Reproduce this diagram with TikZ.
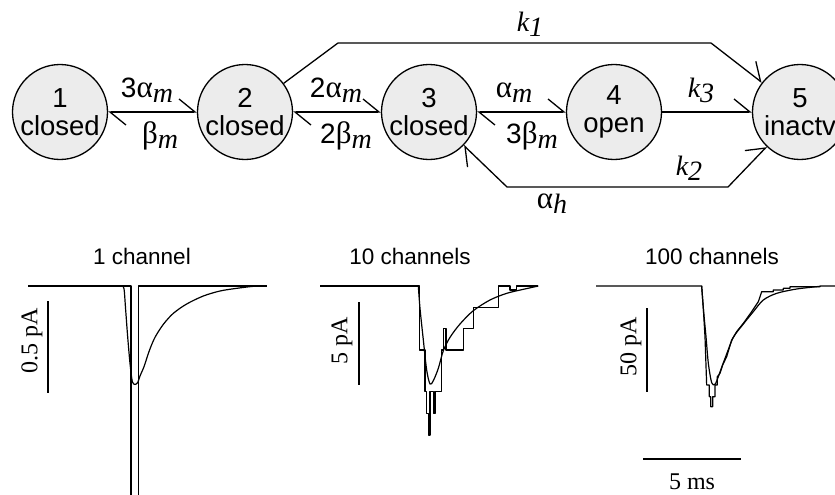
\documentclass[tikz,border=0pt]{standalone}
\usepackage{fontspec}
\setmainfont{Liberation Sans}
\newfontfamily\serf{Liberation Serif}
\usetikzlibrary{arrows.meta}
\newcommand\lowm[1]{\raisebox{-5pt}{\serf\itshape #1}}
\newcommand\gk[1]{{\serf\fontsize{31}{32}\selectfont #1}}
\begin{document}
\begin{tikzpicture}[x=1pt,y=-1pt,line width=1.3pt,
  state/.style={circle,draw,fill=gray!15,minimum size=95pt,inner sep=0pt,align=center,font=\fontsize{27.5}{28}\selectfont},
  lab/.style={font=\fontsize{28}{30}\selectfont,inner sep=0pt,anchor=base},
  title/.style={font=\fontsize{22.5}{24}\selectfont,inner sep=0pt},
  sclab/.style={font=\fontsize{24}{26}\selectfont\serf,inner sep=0pt},
  harp/.style={-{Straight Barb[left,length=16pt,width=26pt]}},
  biharp/.style={{Straight Barb[left,length=16pt,width=26pt]}-{Straight Barb[left,length=16pt,width=26pt]}},
  trace/.style={line width=1.2pt,line join=round}]
\useasboundingbox (0,0) rectangle (835,495);
% states
\node[state] (c1) at (60,112) {1\\closed};
\node[state] (c2) at (245,112) {2\\closed};
\node[state] (c3) at (429,112) {3\\closed};
\node[state] (c4) at (614,112) {4\\open};
\node[state] (c5) at (800,112) {5\\inactv};
% transitions
\draw[biharp] (c1) -- (c2);
\draw[biharp] (c2) -- (c3);
\draw[biharp] (c3) -- (c4);
\draw[harp] (c4) -- (c5);
\coordinate (ka) at (338,43);
\coordinate (kb) at (711,43);
\draw[harp] (c2) -- (ka) -- (kb) -- (c5);
\coordinate (ba) at (507,187);
\coordinate (bb) at (728,187);
\draw[biharp] (c3) -- (ba) -- (bb) -- (c5);
% rate labels
\node[lab] (r12) at (147,97) {3\gk{α}\lowm{m}};
\node[lab] (r21) at (160,143) {\gk{β}\lowm{m}};
\node[lab] (r23) at (336,97) {2\gk{α}\lowm{m}};
\node[lab] (r32) at (346,143) {2\gk{β}\lowm{m}};
\node[lab] (r34) at (514,97) {\gk{α}\lowm{m}};
\node[lab] (r43) at (532,143) {3\gk{β}\lowm{m}};
\node[lab] (rk1) at (530,32) {\serf\itshape k\lowm{1}};
\node[lab] (rk3) at (701,97) {\serf\itshape k\lowm{3}};
\node[lab] (rk2) at (689,175) {\serf\itshape k\lowm{2}};
\node[lab] (rah) at (552,208) {\gk{α}\lowm{h}};
% titles
\node[title] (t1) at (142,256) {1 channel};
\node[title] (t2) at (410,256) {10 channels};
\node[title] (t3) at (712,256) {100 channels};
% scale bars
\draw (48,301) -- (48,393);
\node[sclab,rotate=90] (s1) at (32,341) {0.5 pA};
\draw (359,302) -- (359,385);
\node[sclab,rotate=90] (s2) at (342,341) {5 pA};
\draw (647,308) -- (647,392);
\node[sclab,rotate=90] (s3) at (631,347) {50 pA};
\draw (643,459) -- (741,459);
\node[sclab] (s4) at (692,482) {5 ms};
% panel 1
\begin{scope}[shift={(0,230)},scale=1/3]
\draw[trace] (85,168) -- (393,168) -- (393,800);
\draw[trace] (415,800) -- (415,168) -- (800,168);
\draw[trace] plot[smooth,tension=0.5] coordinates {(365,168) (372,176) (377,240) (383,320) (390,400) (397,455) (405,463) (413,458) (420,438) (432,410) (448,362) (465,322) (490,283) (520,250) (560,222) (610,198) (660,183) (710,175) (760,169) (800,168)};
\end{scope}
% panel 2
\begin{scope}[shift={(290,230)},scale=1/3]
\draw[trace] (90,168) -- (385,168) -- (388,168) -- (388,360) -- (405,360) -- (405,485) -- (410,485) -- (410,550) -- (416,550) -- (416,615) -- (420,615) -- (420,485) -- (430,485) -- (430,550) -- (435,550) -- (435,485) -- (455,485) -- (455,360) -- (460,360) -- (460,295) -- (468,295) -- (468,360) -- (520,360) -- (520,295) -- (550,295) -- (550,232) -- (625,232) -- (625,168) -- (660,168) -- (660,180) -- (680,180) -- (680,168) -- (745,168);
\draw[trace] plot[smooth,tension=0.5] coordinates {(385,168) (390,235) (400,330) (410,420) (420,462) (430,452) (445,415) (460,362) (480,322) (510,282) (550,242) (600,210) (650,190) (700,178) (745,168)};
\end{scope}
% panel 3
\begin{scope}[shift={(570,230)},scale=1/3]
\draw[trace] (78,168) -- (395,168) -- (400,235) -- (405,320) -- (410,465) -- (418,465) -- (418,500) -- (422,500) -- (422,530) -- (428,530) -- (428,500) -- (435,500) -- (435,465) -- (442,465) -- (442,440) -- (450,430) -- (458,405) -- (470,380) -- (485,330) -- (500,305) -- (520,280) -- (545,245) -- (565,215) -- (575,185) -- (610,185) -- (610,180) -- (640,180) -- (640,175) -- (660,175) -- (660,170) -- (750,170) -- (750,168) -- (795,168);
\draw[trace] plot[smooth,tension=0.5] coordinates {(395,168) (400,235) (408,320) (415,400) (425,458) (435,463) (445,440) (455,412) (470,372) (490,322) (520,282) (550,245) (580,210) (620,190) (680,177) (750,169)};
\end{scope}
\end{tikzpicture}
\end{document}
